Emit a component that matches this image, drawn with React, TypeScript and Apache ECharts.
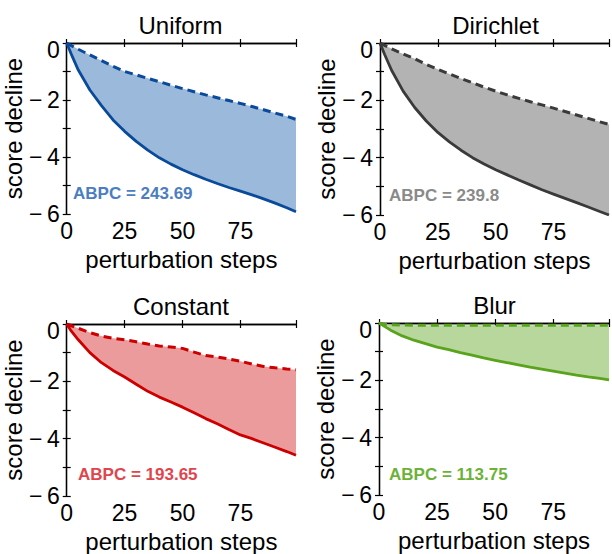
import React, { useEffect, useRef } from "react";
import * as echarts from "echarts";

const steps = [0, 2, 5, 10, 15, 20, 25, 30, 35, 40, 45, 50, 55, 60, 65, 70, 75, 80, 85, 90, 95, 99];

const uniformSolid = [0, -0.4, -0.95, -1.65, -2.2, -2.7, -3.1, -3.45, -3.76, -4.03, -4.25, -4.45, -4.62, -4.78, -4.93, -5.07, -5.2, -5.33, -5.47, -5.62, -5.78, -5.92];
const uniformDashed = [0, -0.09, -0.22, -0.42, -0.62, -0.82, -1.0, -1.12, -1.24, -1.36, -1.48, -1.6, -1.71, -1.82, -1.92, -2.02, -2.12, -2.23, -2.34, -2.46, -2.57, -2.68];

const dirichletSolid = [0, -0.4, -0.95, -1.68, -2.25, -2.72, -3.12, -3.45, -3.74, -4.0, -4.22, -4.42, -4.6, -4.78, -4.95, -5.12, -5.27, -5.42, -5.57, -5.72, -5.88, -6.0];
const dirichletDashed = [0, -0.08, -0.2, -0.38, -0.55, -0.75, -0.92, -1.08, -1.24, -1.39, -1.54, -1.68, -1.81, -1.93, -2.05, -2.16, -2.27, -2.39, -2.51, -2.63, -2.75, -2.84];

const constantSolid = [0, -0.25, -0.55, -1.0, -1.35, -1.62, -1.85, -2.1, -2.35, -2.55, -2.72, -2.9, -3.1, -3.3, -3.48, -3.68, -3.87, -4.0, -4.15, -4.3, -4.45, -4.58];
const constantDashed = [0, -0.06, -0.15, -0.3, -0.42, -0.5, -0.55, -0.62, -0.7, -0.77, -0.8, -0.85, -0.98, -1.1, -1.15, -1.22, -1.3, -1.4, -1.48, -1.53, -1.57, -1.6];

const blurSolid = [0, -0.1, -0.25, -0.45, -0.6, -0.72, -0.84, -0.93, -1.03, -1.12, -1.22, -1.3, -1.38, -1.46, -1.54, -1.61, -1.68, -1.75, -1.82, -1.88, -1.93, -1.98];
const blurDashed = [0, -0.04, -0.06, -0.07, -0.08, -0.08, -0.08, -0.08, -0.08, -0.08, -0.08, -0.08, -0.08, -0.08, -0.08, -0.08, -0.08, -0.08, -0.08, -0.08, -0.08, -0.08];

const panelTitles = ["Uniform", "Dirichlet", "Constant", "Blur"];
const abpcLabels = ["ABPC = 243.69", "ABPC = 239.8", "ABPC = 193.65", "ABPC = 113.75"];
const solidSeries = [uniformSolid, dirichletSolid, constantSolid, blurSolid];
const dashedSeries = [uniformDashed, dirichletDashed, constantDashed, blurDashed];

const xMin = 0;
const xMax = 99;
const xInterval = 25;
const yMin = -6;
const yMax = 0;
const yInterval = 1;

const lineColors = ["#0a4a9a", "#3a3a3a", "#cc0000", "#5aa31c"];
const fillColors = ["#9bb9da", "#b3b3b3", "#eb9b9b", "#b7d79d"];
const textColors = ["#4a7ebf", "#8a8a8a", "#e0454d", "#6db238"];

const FONT = "Liberation Sans";

const grids = [
  { left: 65, top: 43, width: 231, height: 171 },
  { left: 380, top: 43, width: 231, height: 172 },
  { left: 66, top: 324, width: 230, height: 172 },
  { left: 379, top: 323, width: 231, height: 172 },
];

const abpcPos = [
  [73, 193],
  [389, 195],
  [78, 474],
  [389, 474],
];

export default function App() {
  const ref = useRef<HTMLDivElement>(null);
  useEffect(() => {
    document.body.style.margin = "0";
    if (!ref.current) return;
    const chart = echarts.init(ref.current, null, { renderer: "svg" });
    const xAxis: any[] = [];
    const yAxis: any[] = [];
    const series: any[] = [];
    const graphic: any[] = [];
    grids.forEach((g, i) => {
      const axisLine = { show: true, lineStyle: { color: "#000", width: 1.3 } };
      const tick = { show: true, inside: true, length: 4, lineStyle: { color: "#000", width: 1.2 } };
      xAxis.push({
        type: "value", gridIndex: i, position: "bottom", min: xMin, max: xMax, interval: xInterval,
        axisLine, axisTick: tick, splitLine: { show: false },
        name: "perturbation steps", nameLocation: "middle", nameGap: 33,
        nameTextStyle: { fontFamily: FONT, fontSize: 24, color: "#000" },
        axisLabel: {
          margin: 5, fontFamily: FONT, fontSize: 23, color: "#000",
          formatter: (v: number) => (v === xMax ? "" : String(v)),
        },
      });
      xAxis.push({
        type: "value", gridIndex: i, position: "top", min: xMin, max: xMax, interval: xInterval,
        axisLine, axisTick: tick, axisLabel: { show: false }, splitLine: { show: false },
      });
      yAxis.push({
        type: "value", gridIndex: i, position: "left", min: yMin, max: yMax, interval: yInterval,
        axisLine, axisTick: tick, splitLine: { show: false },
        name: "score decline", nameLocation: "middle", nameGap: 35,
        nameTextStyle: { fontFamily: FONT, fontSize: 24, color: "#000" },
        axisLabel: {
          margin: 7, fontFamily: FONT, fontSize: 23, color: "#000",
          formatter: (v: number) => {
            const r = Math.round(v);
            if (r === 0) return "{z|0}";
            if (r % 2 !== 0) return "";
            return "\u2212\u2009" + Math.abs(r);
          },
          rich: { z: { fontFamily: FONT, fontSize: 23, color: "#000", padding: [14, 0, 0, 0] } },
        },
      });
      yAxis.push({
        type: "value", gridIndex: i, position: "right", min: yMin, max: yMax, interval: yInterval,
        axisLine, axisTick: tick, axisLabel: { show: false }, splitLine: { show: false },
      });
      const solid = steps.map((s, k) => [s, solidSeries[i][k]]);
      const dashed = steps.map((s, k) => [s, dashedSeries[i][k]]);
      const fill = fillColors[i];
      series.push({
        type: "custom", xAxisIndex: 2 * i, yAxisIndex: 2 * i, coordinateSystem: "cartesian2d",
        data: [[steps[0], solidSeries[i][0]]], z: 2, silent: true,
        renderItem: (_params: any, api: any) => {
          const pts: number[][] = [];
          solid.forEach((p) => pts.push(api.coord(p)));
          for (let k = dashed.length - 1; k >= 0; k--) pts.push(api.coord(dashed[k]));
          return { type: "polygon", shape: { points: pts }, style: { fill, stroke: "none" } };
        },
      });
      series.push({
        type: "line", xAxisIndex: 2 * i, yAxisIndex: 2 * i, data: dashed, symbol: "none",
        lineStyle: { color: lineColors[i], width: 3, type: [8, 5] }, z: 3,
      });
      series.push({
        type: "line", xAxisIndex: 2 * i, yAxisIndex: 2 * i, data: solid, symbol: "none",
        lineStyle: { color: lineColors[i], width: 2.8 }, z: 4,
      });
      graphic.push({
        type: "text", x: g.left + g.width / 2, y: g.top - 18,
        style: { text: panelTitles[i], fontFamily: FONT, fontSize: 24, fill: "#000", textAlign: "center", textVerticalAlign: "middle" },
      });
      graphic.push({
        type: "text", x: abpcPos[i][0], y: abpcPos[i][1], z: 10,
        style: { text: abpcLabels[i], fontFamily: FONT, fontSize: 17, fontWeight: "bold", fill: textColors[i], textAlign: "left", textVerticalAlign: "middle" },
      });
    });
    chart.setOption({
      animation: false,
      backgroundColor: "#fff",
      grid: grids.map((g) => ({ ...g, containLabel: false })),
      xAxis, yAxis, series, graphic,
    });
    return () => chart.dispose();
  }, []);
  return <div ref={ref} style={{ width: 612, height: 554 }} />;
}
